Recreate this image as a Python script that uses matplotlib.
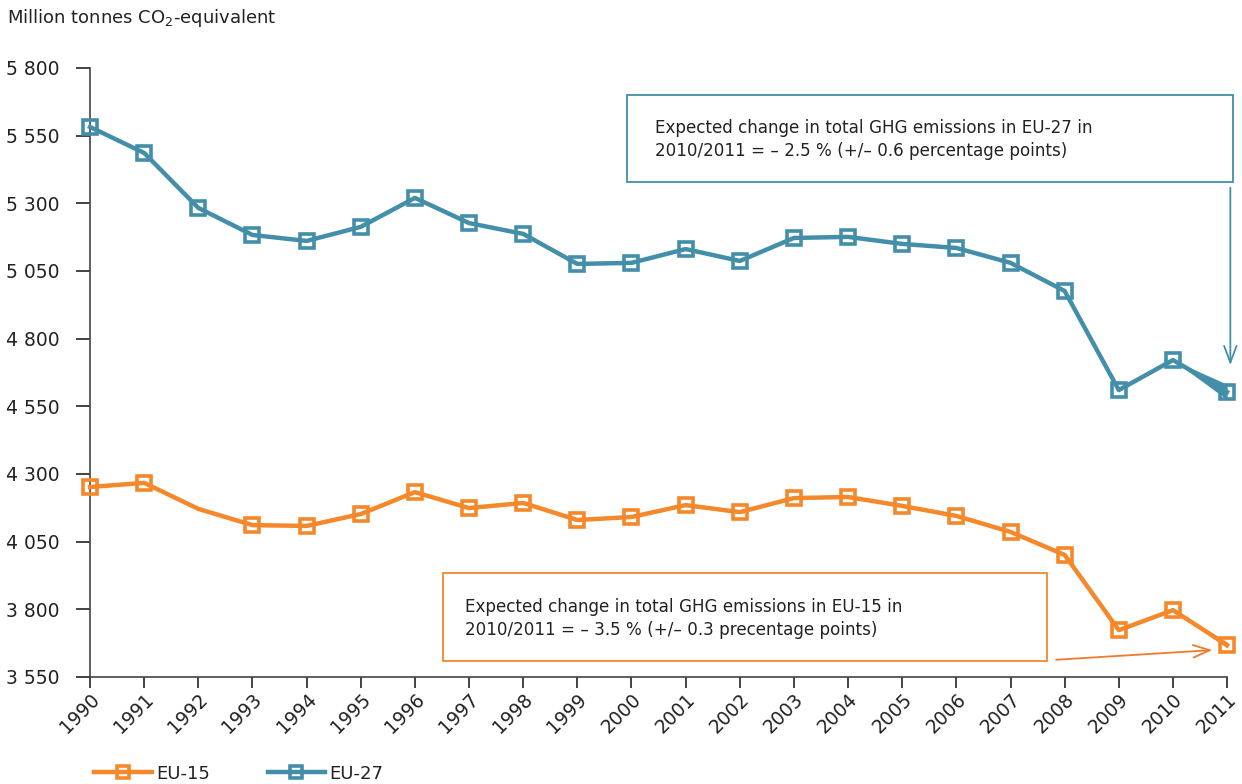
import matplotlib.pyplot as plt
from matplotlib.patches import Rectangle
from matplotlib.ticker import FuncFormatter

plt.rcParams['font.family'] = ['DejaVu Sans']
plt.rcParams['mathtext.default'] = 'regular'

years = list(range(1990, 2012))
eu27 = [5582, 5486, 5283, 5183, 5161, 5213, 5320, 5227, 5187, 5076, 5080,
        5131, 5087, 5172, 5176, 5150, 5135, 5080, 4976, 4610, 4721, 4603]
eu15 = [4252, 4267, 4171, 4111, 4108, 4152, 4233, 4174, 4193, 4130, 4141,
        4185, 4159, 4211, 4215, 4182, 4145, 4086, 4001, 3723, 3797, 3668]
# uncertainty on the 2010/2011 change, percentage points
eu27_err = 0.6
eu15_err = 0.3
yticks = [3550, 3800, 4050, 4300, 4550, 4800, 5050, 5300, 5550, 5800]

c15 = '#f5882a'
c27 = '#438fa9'
txt = '#222222'

fig = plt.figure(figsize=(12.42, 7.84), dpi=100)
ax = fig.add_axes([0.0725, 0.1365, 0.9155, 0.7768])

ax.plot(years, eu15, color=c15, lw=3.2, marker='s', ms=10, mfc='none', mew=2.6,
        markevery=[i for i in range(len(years)) if i != 2], clip_on=False,
        label='EU-15', zorder=3)
ax.plot(years, eu27, color=c27, lw=3.2, marker='s', ms=10, mfc='none', mew=2.6,
        clip_on=False, label='EU-27', zorder=3)

# uncertainty wedges for the last year
for vals, err, c in [(eu15, eu15_err, c15), (eu27, eu27_err, c27)]:
    d = vals[-2] * err / 100
    ax.fill_between(years[-2:], [vals[-2], vals[-1] - d], [vals[-2], vals[-1] + d],
                    color=c, lw=0, zorder=2, clip_on=False)

ax.set_xlim(1990, 2011)
ax.set_ylim(3550, 5800)
ax.set_xticks(years)
ax.set_xticklabels([str(y) for y in years], rotation=45, ha='right',
                   rotation_mode='anchor', fontsize=13.5, color=txt)
ax.set_yticks(yticks)
ax.yaxis.set_major_formatter(FuncFormatter(lambda v, p: f'{int(v):,}'.replace(',', ' ')))
ax.tick_params(axis='y', labelsize=13.5, colors=txt, length=10, width=1.2, pad=12)
ax.tick_params(axis='x', length=8, width=1.2, pad=1, colors=txt)
for s in ['top', 'right']:
    ax.spines[s].set_visible(False)
for s in ['left', 'bottom']:
    ax.spines[s].set_color('#444444')
    ax.spines[s].set_linewidth(1.2)

# annotation boxes
ax.add_patch(Rectangle((1999.92, 5379), 11.19, 321, fill=False, ec=c27, lw=1.3,
                       clip_on=False, zorder=4))
ax.text(2000.44, 5536, 'Expected change in total GHG emissions in EU-27 in\n'
        '2010/2011 = \u2013 2.5 % (+/\u2013 0.6 percentage points)',
        fontsize=12.1, color=txt, va='center', ha='left', linespacing=1.4)
ax.annotate('', xy=(2011.06, 4692), xytext=(2011.06, 5368),
            arrowprops=dict(arrowstyle='->,head_length=1.2,head_width=0.45',
                            color=c27, lw=1.3), annotation_clip=False)

ax.add_patch(Rectangle((1996.52, 3609), 11.16, 325, fill=False, ec=c15, lw=1.3,
                       clip_on=False, zorder=4))
ax.text(1996.93, 3766, 'Expected change in total GHG emissions in EU-15 in\n'
        '2010/2011 = \u2013 3.5 % (+/\u2013 0.3 precentage points)',
        fontsize=12.1, color=txt, va='center', ha='left', linespacing=1.4)
ax.annotate('', xy=(2010.78, 3650), xytext=(2007.79, 3613),
            arrowprops=dict(arrowstyle='->,head_length=1.2,head_width=0.45',
                            color='#ee7a2e', lw=1.3), annotation_clip=False)

fig.text(0.006, 0.977, 'Million tonnes CO$_2$-equivalent', fontsize=13,
         color=txt, va='center', ha='left')

fig.legend(loc='center left', bbox_to_anchor=(0.063, 0.013), ncol=2,
           frameon=False, fontsize=13, handlelength=3.2, columnspacing=3.2,
           handletextpad=0.2, labelcolor=txt, markerscale=0.85)

fig.savefig('out.png', dpi=100)
